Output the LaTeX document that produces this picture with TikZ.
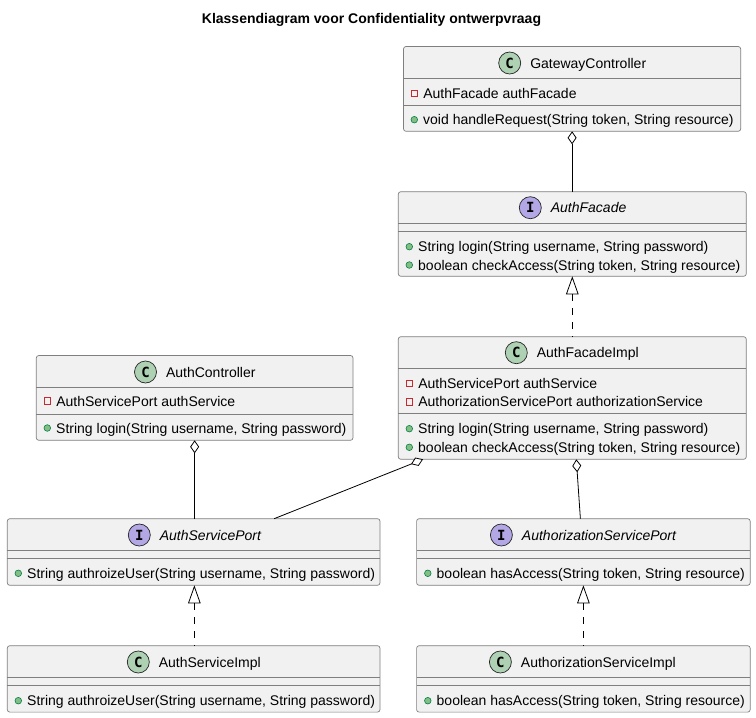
\documentclass[tikz,border=0pt]{standalone}
\usepackage{fontspec}
\setmainfont{Liberation Sans}
\setmonofont{DejaVu Sans Mono}
\usetikzlibrary{positioning,arrows.meta}
\definecolor{boxfill}{HTML}{F1F1F1}
\definecolor{boxline}{HTML}{7F7F7F}
\definecolor{classgreen}{HTML}{ADD1B2}
\definecolor{ifacepurple}{HTML}{B4A7E5}
\definecolor{pubfill}{HTML}{84BE84}
\definecolor{publine}{HTML}{038048}
\definecolor{privline}{HTML}{C82930}
\tikzset{
  classbox/.style={draw=boxline,fill=boxfill,line width=0.7pt,rounded corners=2.5pt,
    anchor=north west,inner sep=0pt,outer sep=0pt},
  divider/.style={draw=boxline,line width=0.7pt},
  badge/.style={circle,draw=black!85,line width=0.7pt,minimum size=22pt,inner sep=0pt,
    font=\ttfamily\bfseries\fontsize{14}{14}\selectfont},
  classname/.style={anchor=west,inner sep=0pt,text height=10pt,text depth=0pt,
    font=\fontsize{14}{15}\selectfont},
  member/.style={inner sep=0pt,text height=10pt,text depth=0pt,
    font=\fontsize{14}{15}\selectfont},
  pubdot/.style={circle,draw=publine,fill=pubfill,line width=0.6pt,minimum size=6.6pt,inner sep=0pt},
  privdot/.style={rectangle,draw=privline,line width=0.7pt,minimum size=6.6pt,inner sep=0pt},
  aggregation/.style={{Diamond[open,fill=white,length=13pt,width=9pt]}-,line width=0.8pt},
  realization/.style={{Triangle[open,fill=white,length=18pt,width=12.5pt]}-,line width=0.8pt,
    dash pattern=on 7pt off 7pt},
}
\begin{document}
\begin{tikzpicture}[x=1pt,y=-1pt]
\useasboundingbox (0,0) rectangle (756,718);
\node[anchor=center,inner sep=0pt,font=\bfseries\fontsize{14}{15}\selectfont] (title) at (371.5,20)
  {Klassendiagram voor Confidentiality ontwerpvraag};

% class boxes
\foreach \n/\x/\y/\w/\h in {
  gateway/403.5/46.5/337.2/84.8,
  facade/398.3/191.7/348/84.6,
  facadeimpl/398.3/336.7/348/122.6,
  authctrl/36.3/355.5/316.7/84.8,
  serviceport/7.3/518.7/372.7/66.6,
  serviceimpl/7.3/645.7/372.7/66.4,
  authzport/416.6/518.7/333.6/66.6,
  authzimpl/416.6/645.7/333.6/66.4}
  \node[classbox,minimum width=\w pt,minimum height=\h pt] (\n) at (\x,\y) {};

% compartment lines
\foreach \n/\y in {
  gateway/78.3,gateway/105.7,
  facade/223.3,facade/231.3,
  facadeimpl/368.3,facadeimpl/413.3,
  authctrl/387.3,authctrl/414.3,
  serviceport/550.3,serviceport/558.3,
  serviceimpl/677.3,serviceimpl/685.3,
  authzport/550.3,authzport/558.3,
  authzimpl/677.3,authzimpl/685.3}
  \draw[divider] (\n.west |- 0,\y) -- (\n.east |- 0,\y);

% headers
\foreach \n/\x/\y/\t in {
  gateway/509.7/63/GatewayController,
  facadeimpl/516.3/352.7/AuthFacadeImpl,
  authctrl/145.5/372/AuthController,
  serviceimpl/138.3/662/AuthServiceImpl,
  authzimpl/500.4/662/AuthorizationServiceImpl} {
  \node[badge,fill=classgreen] (\n badge) at (\x,\y) {C};
  \node[classname,right=9pt of \n badge] (\n name) {\t};
}
\foreach \n/\x/\y/\t in {
  facade/530.3/207.7/AuthFacade,
  serviceport/139.3/535/AuthServicePort,
  authzport/501.4/535/AuthorizationServicePort} {
  \node[badge,fill=ifacepurple] (\n badge) at (\x,\y) {I};
  \node[classname,right=9pt of \n badge,font=\itshape\fontsize{14}{15}\selectfont] (\n name) {\t};
}

% private fields
\foreach \x/\y/\t [count=\i] in {
  414.3/93.3/{AuthFacade authFacade},
  409.3/383.3/{AuthServicePort authService},
  409.3/401.7/{AuthorizationServicePort authorizationService},
  47.3/401/{AuthServicePort authService}} {
  \node[privdot] (priv\i) at (\x,\y) {};
  \node[member,right=5.1pt of priv\i] (privtext\i) {\t};
}

% public methods
\foreach \x/\y/\t [count=\i] in {
  414.3/119.7/{void handleRequest(String token, String resource)},
  409.3/246.7/{String login(String username, String password)},
  409.3/265/{boolean checkAccess(String token, String resource)},
  409.3/428.7/{String login(String username, String password)},
  409.3/447.3/{boolean checkAccess(String token, String resource)},
  47.3/428/{String login(String username, String password)},
  18.3/573.3/{String authroizeUser(String username, String password)},
  18.3/700.7/{String authroizeUser(String username, String password)},
  427.8/573.3/{boolean hasAccess(String token, String resource)},
  427.8/700.7/{boolean hasAccess(String token, String resource)}} {
  \node[pubdot] (pub\i) at (\x,\y) {};
  \node[member,right=5.1pt of pub\i] (pubtext\i) {\t};
}

% relations
\draw[aggregation] (gateway.south) -- (facade.north -| gateway.south);
\draw[realization] (facade.south) -- (facadeimpl.north);
\draw[aggregation] (authctrl.south) -- (serviceport.north -| authctrl.south);
\draw[aggregation] ([xshift=24.7pt]facadeimpl.south west) -- ([xshift=80.5pt]serviceport.north);
\draw[aggregation] ([xshift=4pt]facadeimpl.south) -- ([xshift=-3pt]authzport.north);
\draw[realization] ([xshift=0.7pt]serviceport.south) -- ([xshift=0.7pt]serviceimpl.north);
\draw[realization] (authzport.south) -- (authzimpl.north);
\end{tikzpicture}
\end{document}
